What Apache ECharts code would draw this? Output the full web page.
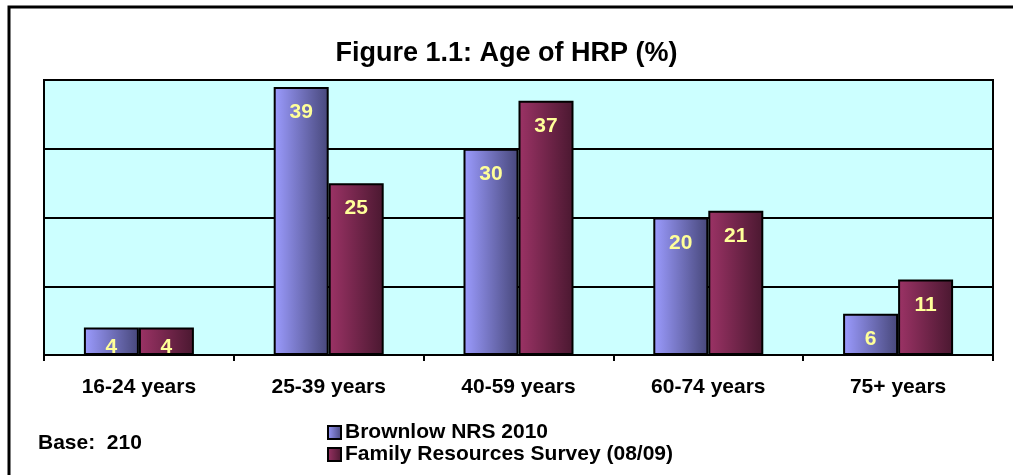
<!DOCTYPE html>
<html>
<head>
<meta charset="utf-8">
<script src="https://cdn.jsdelivr.net/npm/echarts@6/dist/echarts.min.js"></script>
<style>html,body{margin:0;padding:0;background:#fff;}#c{width:1013px;height:475px;}</style>
</head>
<body>
<div id="c"></div>
<script>
const categories = ['16-24 years', '25-39 years', '40-59 years', '60-74 years', '75+ years'];
const brownlow = [4, 39, 30, 20, 6];
const frs = [4, 25, 37, 21, 11];
const seriesNames = ['Brownlow NRS 2010', 'Family Resources Survey (08/09)'];
const yTicks = [0, 10, 20, 30, 40];

const chart = echarts.init(document.getElementById('c'));
const font = 'Liberation Sans, Arial, sans-serif';
function grad(a, b) {
  return new echarts.graphic.LinearGradient(0, 0, 1, 0, [{offset: 0, color: a}, {offset: 1, color: b}]);
}
const label = {
  show: true, position: 'insideTop', distance: 15,
  color: '#FFFF99', fontWeight: 'bold', fontSize: 21, fontFamily: font
};
// short bars: the label is pushed up a little so it stays inside the bar
function withLabels(arr) {
  return arr.map(v => v < 5 ? {value: v, label: {distance: 9}} : v);
}
chart.setOption({
  animation: false,
  backgroundColor: '#fff',
  title: {
    text: 'Figure 1.1: Age of HRP (%)', left: 'center', top: 35,
    textStyle: {fontFamily: font, fontWeight: 'bold', fontSize: 27, color: '#000'}
  },
  graphic: [
    {type: 'rect', shape: {x: 9, y: 7, width: 1100, height: 600}, style: {fill: 'none', stroke: '#000', lineWidth: 3}, z: 100},
    {type: 'text', left: 38, top: 433, style: {text: 'Base:  210', font: 'bold 21px ' + font, fill: '#000'}}
  ],
  legend: {
    orient: 'vertical', left: 322, top: 417, itemGap: 1, itemWidth: 13, itemHeight: 13, icon: 'rect',
    itemStyle: {borderColor: '#000', borderWidth: 2},
    textStyle: {fontFamily: font, fontWeight: 'bold', fontSize: 21, color: '#000', padding: [0, 0, 0, -1]},
    data: seriesNames
  },
  grid: {
    left: 44, right: 20, top: 80, bottom: 120, show: true,
    backgroundColor: '#CCFFFF', borderColor: '#000', borderWidth: 2
  },
  xAxis: {
    type: 'category', data: categories,
    axisLine: {lineStyle: {color: '#000', width: 2}},
    axisTick: {show: true, length: 6, lineStyle: {color: '#000', width: 2}},
    axisLabel: {margin: 22, fontFamily: font, fontWeight: 'bold', fontSize: 21, color: '#000'}
  },
  yAxis: {
    type: 'value', min: yTicks[0], max: yTicks[yTicks.length - 1], interval: yTicks[1] - yTicks[0],
    axisLine: {show: true, lineStyle: {color: '#000', width: 2}},
    axisTick: {show: false}, axisLabel: {show: false},
    splitLine: {lineStyle: {color: '#000', width: 2}}
  },
  series: [
    {
      name: seriesNames[0], type: 'bar', data: withLabels(brownlow), barWidth: 55, barGap: '0%',
      itemStyle: {color: grad('#9C9CFF', '#47477A'), borderColor: '#000', borderWidth: 2},
      label: label
    },
    {
      name: seriesNames[1], type: 'bar', data: withLabels(frs), barWidth: 55, barGap: '0%',
      itemStyle: {color: grad('#9C3366', '#4A1830'), borderColor: '#000', borderWidth: 2},
      label: label
    }
  ]
});
</script>
</body>
</html>
